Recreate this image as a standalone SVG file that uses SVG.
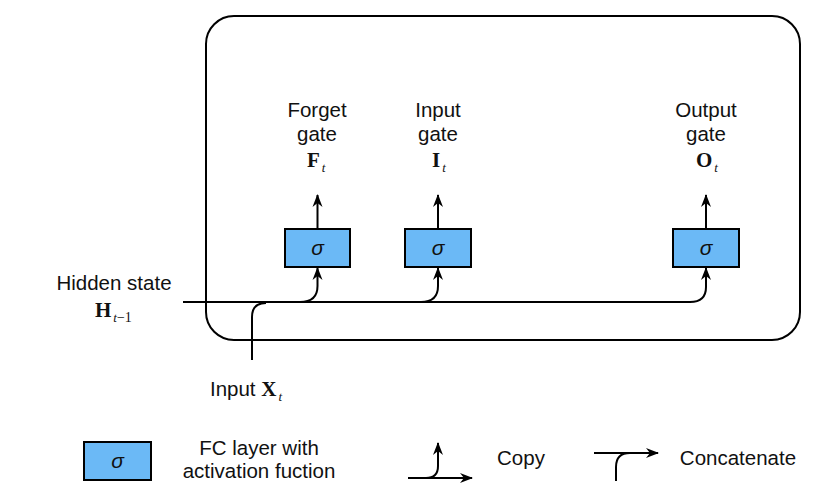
<svg xmlns="http://www.w3.org/2000/svg" width="836" height="498" viewBox="0 0 836 498">
<defs>
<marker id="ah" markerUnits="userSpaceOnUse" markerWidth="13" markerHeight="11" viewBox="0 0 13 11" refX="12" refY="5.5" orient="auto">
<path d="M0,0.5 L13,5.5 L0,10.5 L4,5.5 Z" fill="#000"/>
</marker>
<style>
.ln{fill:none;stroke:#000;stroke-width:2}
.box{fill:#6bb9f6;stroke:#000;stroke-width:2}
.t{font-family:"Liberation Sans",Arial,sans-serif;font-size:20.5px;fill:#111;text-anchor:middle}
.sig{font-family:"Liberation Sans",Arial,sans-serif;font-style:italic;font-size:21px;fill:#111;text-anchor:middle}
.m{font-family:"Liberation Serif","Times New Roman",serif;font-weight:bold;font-size:21px;fill:#111}
.s{font-family:"Liberation Serif","Times New Roman",serif;font-weight:normal;font-style:italic;font-size:13px;fill:#111}
.u{font-family:"Liberation Serif","Times New Roman",serif;font-weight:normal;font-style:normal;font-size:14px;fill:#111}
</style>
</defs>
<rect x="206" y="16" width="594" height="324" rx="28" class="ln"/>
<g id="connectors">
<path class="ln" d="M183,302 H690 Q706,302 706,287 V268" marker-end="url(#ah)"/>
<path class="ln" d="M252,360 V317 Q252,303 266,303"/>
<path class="ln" d="M300,302 Q317.5,302 317.5,286 V268" marker-end="url(#ah)"/>
<path class="ln" d="M421,302 Q438,302 438,286 V268" marker-end="url(#ah)"/>
<path class="ln" d="M317.5,229 V195" marker-end="url(#ah)"/>
<path class="ln" d="M438,229 V195" marker-end="url(#ah)"/>
<path class="ln" d="M706,229 V195" marker-end="url(#ah)"/>
</g>
<g id="forget">
<rect class="box" x="285" y="229" width="65" height="38"/>
<text class="sig" x="317.5" y="255">σ</text>
<text class="t" x="317" y="117">Forget</text>
<text class="t" x="317" y="141">gate</text>
<text class="m" x="307" y="167">F<tspan class="s" dy="5" dx="2">t</tspan></text>
</g>
<g id="input">
<rect class="box" x="405" y="229" width="66" height="38"/>
<text class="sig" x="438" y="255">σ</text>
<text class="t" x="438" y="117">Input</text>
<text class="t" x="438" y="141">gate</text>
<text class="m" x="432" y="167">I<tspan class="s" dy="5" dx="2">t</tspan></text>
</g>
<g id="output">
<rect class="box" x="673" y="229" width="66" height="38"/>
<text class="sig" x="706" y="255">σ</text>
<text class="t" x="706" y="117">Output</text>
<text class="t" x="706" y="141">gate</text>
<text class="m" x="696" y="167">O<tspan class="s" dy="5" dx="2">t</tspan></text>
</g>
<g id="hidden">
<text class="t" x="114" y="290">Hidden state</text>
<text class="m" x="95" y="317">H<tspan class="s" dy="5" dx="2" font-size="14">t</tspan><tspan class="u">−1</tspan></text>
</g>
<g id="inputx">
<text class="t" x="246" y="396">Input <tspan class="m">X</tspan><tspan class="s" dy="5" dx="2">t</tspan></text>
</g>
<g id="legend-fc">
<rect class="box" x="84" y="442" width="67" height="38"/>
<text class="sig" x="117.5" y="468">σ</text>
<text class="t" x="259" y="455">FC layer with</text>
<text class="t" x="259" y="478">activation fuction</text>
</g>
<g id="legend-copy">
<path class="ln" d="M408,478 H472" marker-end="url(#ah)"/>
<path class="ln" d="M426,478 Q438,478 438,466 V443" marker-end="url(#ah)"/>
<text class="t" x="521" y="465">Copy</text>
</g>
<g id="legend-concat">
<path class="ln" d="M594,453 H658" marker-end="url(#ah)"/>
<path class="ln" d="M616,481 V467 Q616,453 630,453"/>
<text class="t" x="738" y="465">Concatenate</text>
</g>
</svg>
